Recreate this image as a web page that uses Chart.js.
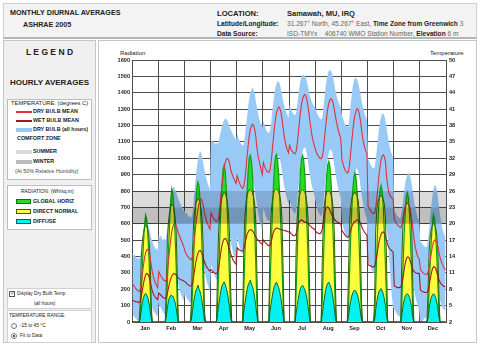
<!DOCTYPE html>
<html>
<head>
<meta charset="utf-8">
<script src="https://cdn.jsdelivr.net/npm/chart.js@4.4.0/dist/chart.umd.min.js"></script>
<style>
body{margin:0;width:480px;height:347px;background:#fff;font-family:"Liberation Sans",Arial,sans-serif;position:relative;overflow:hidden;color:#222}
.t{position:absolute;white-space:nowrap;line-height:1}
.b{font-weight:bold}
.box{position:absolute;box-sizing:border-box}
.g{color:#666}
.sw{position:absolute;box-sizing:border-box}
</style>
</head>
<body>
<!-- header -->
<div class="box" style="left:3px;top:3px;width:474px;height:36px;background:#f3f3f3;border:1px solid #cfcfcf;border-bottom:2px solid #b5b5b5"></div>
<div class="t b" style="left:10px;top:9px;font-size:7.2px">MONTHLY DIURNAL AVERAGES</div>
<div class="t b" style="left:23px;top:20.5px;font-size:7.2px">ASHRAE 2005</div>
<div class="t b" style="left:217px;top:10px;font-size:7.6px">LOCATION:</div>
<div class="t b" style="left:287px;top:10px;font-size:7.5px">Samawah, MU, IRQ</div>
<div class="t b" style="left:217px;top:21px;font-size:6.6px">Latitude/Longitude:</div>
<div class="t" style="left:287px;top:21px;font-size:6.6px"><span class="g">31.267° North, 45.267° East, </span><b>Time Zone from Greenwich</b><span class="g"> 3</span></div>
<div class="t b" style="left:217px;top:30.5px;font-size:6.6px">Data Source:</div>
<div class="t" style="left:287px;top:30.5px;font-size:6.6px"><span class="g">ISD-TMYx &nbsp;&nbsp; 406740 WMO Station Number, </span><b>Elevation</b><span class="g"> 6 m</span></div>

<!-- legend panel -->
<div class="box" style="left:3px;top:40px;width:93px;height:303px;background:#f0f0f0;border:1px solid #c6c6c6"></div>
<div class="t b" style="left:3px;width:93px;text-align:center;top:48px;font-size:8.5px">L E G E N D</div>
<div class="t b" style="left:3px;width:93px;text-align:center;top:79px;font-size:8px">HOURLY AVERAGES</div>

<div class="box" style="left:7px;top:99px;width:85px;height:81px;background:#fff;border:1px solid #bdbdbd"></div>
<div class="t" style="left:11px;top:100.5px;font-size:5.8px">TEMPERATURE: (degrees C)</div>
<div class="sw" style="left:16px;top:110.5px;width:16px;height:2px;background:#e0323c"></div>
<div class="t b" style="left:33px;top:109px;font-size:5.4px">DRY BULB MEAN</div>
<div class="sw" style="left:16px;top:120px;width:16px;height:2px;background:#9e1a22"></div>
<div class="t b" style="left:33px;top:118.3px;font-size:5.4px">WET BULB MEAN</div>
<div class="sw" style="left:16px;top:127.5px;width:16px;height:4px;background:#99c9f7"></div>
<div class="t b" style="left:33px;top:126.6px;font-size:5.4px">DRY BULB (all hours)</div>
<div class="t b" style="left:17px;top:136px;font-size:5.4px">COMFORT ZONE</div>
<div class="sw" style="left:16px;top:150px;width:16px;height:4px;background:#dadada"></div>
<div class="t b" style="left:33px;top:149.3px;font-size:5.4px">SUMMER</div>
<div class="sw" style="left:16px;top:159.7px;width:16px;height:4px;background:#bcbcbc"></div>
<div class="t b" style="left:33px;top:159px;font-size:5.4px">WINTER</div>
<div class="t" style="left:15px;top:168.5px;font-size:5.3px;color:#444">(At 50% Relative Humidity)</div>

<div class="box" style="left:7px;top:185px;width:85px;height:45px;background:#fff;border:1px solid #bdbdbd"></div>
<div class="t" style="left:21px;top:189.3px;font-size:5px">RADIATION: (Wh/sq.m)</div>
<div class="sw" style="left:16px;top:199.2px;width:15px;height:5px;background:#22dd22;border:1px solid #1a6a1a"></div>
<div class="t b" style="left:33px;top:199px;font-size:5.4px">GLOBAL HORIZ</div>
<div class="sw" style="left:16px;top:209.2px;width:15px;height:5px;background:#ffff40;border:1px solid #555500"></div>
<div class="t b" style="left:33px;top:209px;font-size:5.4px">DIRECT NORMAL</div>
<div class="sw" style="left:16px;top:219.2px;width:15px;height:5px;background:#00f2f2;border:1px solid #1a5a5a"></div>
<div class="t b" style="left:33px;top:219px;font-size:5.4px">DIFFUSE</div>

<div class="box" style="left:7px;top:288px;width:85px;height:21px;background:#fff;border:1px solid #d0d0d0"></div>
<div class="sw" style="left:9px;top:291px;width:6px;height:6px;border:1px solid #555;background:#fff"></div>
<div class="t" style="left:9.5px;top:290px;font-size:6px;color:#2a5a9a">✓</div>
<div class="t" style="left:17px;top:292px;font-size:4.8px">Display Dry Bulb Temp</div>
<div class="t" style="left:34px;top:302px;font-size:4.8px">(all hours)</div>

<div class="box" style="left:7px;top:310px;width:85px;height:33px;background:#fff;border:1px solid #d0d0d0"></div>
<div class="t" style="left:9px;top:313.5px;font-size:4.9px">TEMPERATURE RANGE:</div>
<div class="sw" style="left:11px;top:323px;width:6px;height:6px;border:1px solid #777;border-radius:50%;background:#fff"></div>
<div class="t" style="left:20px;top:324px;font-size:4.8px">-15 to 45 °C</div>
<div class="sw" style="left:11px;top:332.7px;width:6px;height:6px;border:1px solid #777;border-radius:50%;background:#fff"></div>
<div class="sw" style="left:12.8px;top:334.5px;width:2.4px;height:2.4px;border-radius:50%;background:#222"></div>
<div class="t" style="left:20px;top:333.7px;font-size:4.8px">Fit to Data</div>

<!-- chart panel -->
<div class="box" style="left:98px;top:40px;width:379px;height:303px;background:#fff;border:1px solid #c6c6c6"></div>
<div class="t" style="left:120px;top:50px;font-size:6px">Radiation</div>
<div class="t" style="left:430px;top:50px;font-size:6px">Temperature</div>
<div style="position:absolute;left:100px;top:40px;width:378px;height:302px"><canvas id="diurnal"></canvas></div>

<script>
// months and axis ranges
var months = ["Jan","Feb","Mar","Apr","May","Jun","Jul","Aug","Sep","Oct","Nov","Dec"];
var radRange = [0, 1600], radStep = 100;
var tempRange = [2, 50], tempStep = 3;
var summerZone = [23, 26];
var winterZone = [20, 23];

// hourly averages, one row of 24 hours per month (degrees C)
var dryBulbMean = [
 [9.0,8.7,8.4,8.1,7.9,7.7,7.6,7.9,9.0,10.7,12.4,13.8,14.7,15.2,15.3,14.9,14.0,12.6,11.3,10.4,9.7,9.1,8.7,8.3],
 [11.2,10.8,10.4,10.1,9.8,9.6,9.5,9.8,11.3,13.3,15.3,17.1,18.5,19.5,20.0,20.1,19.7,19.0,18.3,17.8,17.3,16.8,16.3,15.8],
 [15.0,14.6,14.2,13.9,13.7,13.5,13.4,14.0,15.6,17.6,19.6,21.3,22.7,23.7,24.3,24.5,24.1,23.2,22.0,21.1,20.4,19.9,19.4,19.0],
 [22.0,21.5,21.1,20.8,20.5,20.4,20.5,21.3,23.0,25.0,27.0,28.8,30.2,31.2,31.8,32.0,31.7,31.0,30.0,29.3,28.7,28.2,27.8,27.4],
 [28.8,28.1,27.5,27.0,26.7,26.5,26.8,28.0,30.0,32.2,34.3,36.0,37.2,37.9,38.2,38.0,37.3,36.1,34.0,32.6,31.6,30.7,29.8,29.0],
 [31.2,30.6,30.1,29.7,29.5,29.4,29.8,31.1,33.1,35.3,37.4,39.1,40.3,41.0,41.4,41.2,40.5,39.3,37.7,36.2,35.0,34.1,33.5,33.0],
 [34.4,33.8,33.4,33.1,32.9,32.8,33.2,34.5,36.5,38.6,40.4,41.9,42.9,43.5,43.7,43.4,42.6,41.4,39.9,38.3,36.9,35.7,34.8,34.1],
 [33.4,32.9,32.5,32.2,32.0,31.9,32.2,33.5,35.5,37.6,39.5,41.0,42.1,42.7,42.9,42.7,42.0,41.0,39.8,38.7,37.7,36.9,36.2,35.7],
 [31.8,31.0,30.3,29.8,29.5,29.3,29.5,30.8,32.8,35.0,37.0,38.7,39.9,40.7,41.1,40.9,40.1,38.9,37.3,35.8,34.7,33.9,33.3,32.8],
 [23.2,22.8,22.5,22.2,22.0,21.9,21.9,22.8,24.6,26.7,28.8,30.5,31.7,32.4,32.6,32.3,31.3,28.5,27.0,25.8,25.2,24.9,24.7,24.5],
 [20.8,20.4,20.1,19.8,19.6,19.4,19.3,19.8,20.8,22.0,23.0,23.6,23.8,23.7,23.2,22.2,20.8,19.2,17.6,16.2,15.1,14.3,13.8,13.5],
 [11.6,11.3,11.1,10.9,10.8,10.7,10.7,11.1,12.1,13.4,14.7,15.8,16.6,17.0,17.0,16.6,15.8,14.8,13.9,13.2,12.6,12.2,11.8,11.5]
];
var wetBulbMean = [
 [6.0,5.9,5.8,5.7,5.7,5.6,5.6,5.8,6.6,7.8,9.0,10.0,10.6,10.9,10.8,10.4,9.6,8.6,7.8,7.2,6.8,6.5,6.3,6.1],
 [7.3,7.1,6.9,6.7,6.5,6.4,6.3,6.5,7.3,8.3,9.2,9.9,10.4,10.7,10.9,10.8,10.6,10.3,10.1,9.9,9.8,9.7,9.6,9.5],
 [9.4,9.2,9.0,8.8,8.7,8.6,8.6,9.0,10.2,11.6,12.9,13.9,14.6,15.0,15.1,14.9,14.4,13.7,13.0,12.5,12.1,11.8,11.5,11.3],
 [11.6,11.4,11.2,11.0,10.9,10.9,11.1,12.0,13.4,14.9,16.0,16.8,17.2,17.3,17.1,16.6,15.9,15.1,14.5,14.0,13.4,13.1,12.8,12.6],
 [15.6,15.4,15.2,15.1,15.0,15.0,15.3,16.2,17.2,18.0,18.5,18.8,18.9,18.9,18.7,18.4,18.0,17.6,17.3,17.0,16.8,16.6,16.4,16.2],
 [17.0,16.7,16.5,16.3,16.1,16.0,16.0,16.6,17.5,18.3,18.8,19.1,19.2,19.2,19.1,19.0,18.9,18.9,18.8,18.8,18.7,18.7,18.6,18.5],
 [18.6,18.3,18.1,17.9,17.8,17.8,18.1,19.0,19.9,20.4,20.6,20.7,20.6,20.4,20.3,20.3,20.2,20.0,19.8,19.6,19.4,19.2,19.1,19.0],
 [18.6,18.4,18.3,18.2,18.2,18.4,19.0,20.3,21.7,22.6,23.0,23.1,22.9,22.5,22.0,21.6,21.2,20.9,20.6,20.4,20.3,20.2,20.1,20.0],
 [18.8,18.5,18.2,17.9,17.7,17.5,17.6,18.1,18.8,19.4,19.9,20.2,20.4,20.6,20.7,20.7,20.5,20.1,19.6,19.1,18.7,18.4,18.1,17.9],
 [12.5,12.4,12.3,12.2,12.1,12.1,12.2,12.9,14.1,15.4,16.6,17.5,18.1,18.4,18.5,18.3,17.7,16.9,16.2,15.7,15.4,15.2,15.0,14.8],
 [8.6,8.5,8.4,8.3,8.3,8.3,8.4,9.0,10.1,11.4,12.6,13.5,13.9,13.9,13.6,13.0,12.3,11.7,11.3,11.1,11.0,10.9,10.9,10.9],
 [7.9,7.7,7.6,7.5,7.4,7.4,7.4,7.7,8.6,9.8,10.9,11.7,12.1,12.1,11.8,11.2,10.5,9.8,9.3,9.0,8.8,8.6,8.5,8.4]
];
// spread of all hourly dry bulb values: highest and lowest for each hour
var dryBulbHigh = [
 [14.6,14.2,14.4,13.9,13.6,13.8,13.4,14.0,15.6,17.2,18.4,19.4,20.0,20.3,19.8,19.5,18.6,17.5,16.9,16.2,15.9,15.3,15.6,15.0],
 [17.8,17.5,17.9,17.2,17.0,17.4,16.9,17.6,19.4,21.3,23.2,24.8,25.9,26.6,26.8,26.2,25.9,25.1,24.6,24.0,23.6,23.1,22.8,22.4],
 [22.3,21.8,22.0,21.4,21.1,21.5,21.0,22.0,24.2,26.5,28.6,30.4,31.8,32.8,33.3,32.9,32.1,31.0,29.8,28.9,28.0,27.4,26.8,26.3],
 [35.3,35.0,35.2,34.8,34.6,34.9,34.5,35.1,36.0,37.0,37.8,38.5,39.0,39.3,39.2,38.9,38.4,37.8,37.2,36.8,36.4,36.0,35.7,35.4],
 [36.4,35.8,35.3,34.8,34.5,34.3,34.6,36.0,37.8,39.6,41.3,42.8,43.9,44.6,44.9,44.5,43.8,42.6,41.4,40.3,39.4,38.7,38.1,37.6],
 [38.8,38.1,37.5,37.0,36.8,36.6,37.0,38.4,40.2,42.0,43.6,44.9,45.7,46.1,46.0,45.6,44.8,43.7,42.6,41.7,41.0,40.4,39.9,39.4],
 [41.8,41.2,40.7,40.3,40.0,39.9,40.2,41.6,43.4,45.0,46.2,46.9,47.2,47.3,47.1,46.7,46.0,45.0,44.0,43.2,42.6,42.1,41.7,41.3],
 [41.0,40.4,39.9,39.5,39.2,39.1,39.5,41.0,43.0,44.9,46.4,47.4,48.0,48.2,48.0,47.5,46.7,45.6,44.5,43.6,42.8,42.2,41.7,41.3],
 [40.0,39.3,38.7,38.2,37.9,37.7,38.0,39.6,41.7,43.6,45.2,46.2,46.7,46.7,46.4,45.8,44.9,43.8,42.6,41.6,40.8,40.1,39.5,39.0],
 [32.0,31.5,31.0,30.6,30.3,30.1,30.3,31.6,33.5,35.5,37.3,38.7,39.6,40.1,40.2,39.8,38.9,37.6,36.2,35.0,34.0,33.2,32.6,32.1],
 [22.4,22.0,21.7,21.4,21.2,21.0,21.2,22.3,24.0,25.8,27.3,28.4,29.0,29.3,29.1,28.4,27.3,25.9,24.5,23.3,22.3,21.5,20.9,20.4],
 [16.8,16.5,16.2,16.0,15.8,15.7,15.9,17.0,19.0,21.3,23.4,25.1,26.3,27.0,27.0,26.4,25.0,23.3,21.6,20.3,19.3,18.6,18.0,17.5]
];
var dryBulbLow = [
 [3.6,3.1,2.9,2.6,2.4,2.3,2.2,2.6,3.8,5.4,6.8,8.0,8.8,9.2,9.0,8.3,7.0,5.6,4.7,4.1,3.8,3.5,3.2,3.0],
 [5.6,5.0,4.6,4.2,3.8,3.5,3.3,3.8,5.2,7.0,8.8,10.4,11.6,12.3,12.6,12.3,11.4,10.0,8.9,8.0,7.3,6.8,6.3,5.9],
 [7.2,6.7,6.3,6.0,5.7,5.5,5.3,5.8,7.4,9.4,11.4,13.0,14.2,15.0,15.3,15.0,14.0,12.6,11.3,10.3,9.5,8.8,8.2,7.7],
 [12.5,11.8,11.2,10.6,10.2,9.8,9.6,10.3,12.2,14.5,16.6,18.3,19.6,20.4,20.8,20.5,19.6,18.2,16.9,15.8,14.9,14.2,13.6,13.0],
 [17.5,16.6,15.9,15.3,14.8,14.5,14.8,16.2,18.6,21.2,23.6,25.5,26.8,27.5,27.8,27.4,26.4,25.0,23.6,22.3,21.2,20.3,19.5,18.8],
 [23.0,22.2,21.5,21.0,20.6,20.4,20.8,22.4,24.6,27.0,29.0,30.6,31.6,32.2,32.4,32.0,31.0,29.7,28.3,27.0,25.9,25.0,24.3,23.6],
 [24.5,23.6,22.9,22.4,22.0,21.9,22.3,23.9,26.2,28.6,30.7,32.3,33.3,33.9,34.0,33.6,32.6,31.2,29.8,28.5,27.4,26.5,25.8,25.1],
 [24.0,23.1,22.4,21.9,21.5,21.4,21.8,23.5,25.8,28.2,30.3,31.9,32.9,33.5,33.6,33.2,32.2,30.8,29.4,28.1,27.0,26.1,25.4,24.7],
 [20.5,19.6,18.8,18.2,17.7,17.5,17.8,19.4,21.8,24.3,26.6,28.3,29.4,30.0,30.1,29.6,28.5,27.0,25.5,24.2,23.1,22.2,21.4,20.8],
 [13.5,12.8,12.2,11.7,11.3,11.0,11.1,12.5,14.6,16.9,19.0,20.6,21.7,22.3,22.4,22.0,21.0,19.5,17.4,14.8,11.6,8.8,6.4,4.6],
 [4.5,4.0,3.6,3.3,3.1,3.0,3.2,4.4,6.3,8.5,10.4,11.8,12.7,13.1,13.0,12.3,11.0,9.5,8.1,7.0,6.1,5.3,4.6,4.0],
 [1.5,1.8,2.2,2.5,2.7,2.8,2.9,3.5,4.6,6.0,7.4,8.5,9.2,9.5,9.3,8.7,7.8,6.8,5.9,5.2,4.7,4.4,4.2,4.0]
];
// radiation (Wh/sq.m)
var globalHoriz = [
 [0,0,0,0,0,0,0,25,170,340,480,590,651,625,540,400,230,60,0,0,0,0,0,0],
 [0,0,0,0,0,0,0,70,250,440,610,740,814,785,690,530,340,120,0,0,0,0,0,0],
 [0,0,0,0,0,0,30,180,380,580,730,820,855,830,740,590,400,180,20,0,0,0,0,0],
 [0,0,0,0,0,0,110,300,510,700,840,930,957,920,820,660,460,250,60,0,0,0,0,0],
 [0,0,0,0,0,0,190,400,610,790,920,1000,1018,985,900,760,580,360,120,0,0,0,0,0],
 [0,0,0,0,0,0,200,410,620,800,930,1005,1022,990,905,765,590,380,140,0,0,0,0,0],
 [0,0,0,0,0,0,180,395,605,790,920,998,1018,988,900,760,585,375,130,0,0,0,0,0],
 [0,0,0,0,0,0,130,350,570,760,890,960,981,950,860,710,520,300,80,0,0,0,0,0],
 [0,0,0,0,0,0,70,280,500,680,810,885,912,880,790,640,440,220,30,0,0,0,0,0],
 [0,0,0,0,0,0,25,200,420,600,730,810,835,800,700,540,340,120,0,0,0,0,0,0],
 [0,0,0,0,0,0,0,110,320,510,660,760,790,760,660,500,300,70,0,0,0,0,0,0],
 [0,0,0,0,0,0,0,40,190,360,500,600,655,630,545,405,235,60,0,0,0,0,0,0]
];
var directNormal = [
 [0,0,0,0,0,0,0,110,390,490,545,575,590,585,560,515,410,140,0,0,0,0,0,0],
 [0,0,0,0,0,0,0,240,510,610,665,700,720,715,690,645,550,300,0,0,0,0,0,0],
 [0,0,0,0,0,0,120,430,600,680,720,740,750,745,725,685,610,420,60,0,0,0,0,0],
 [0,0,0,0,0,0,330,560,660,720,760,780,790,785,765,730,660,520,200,0,0,0,0,0],
 [0,0,0,0,0,0,450,640,725,770,795,805,806,800,790,765,720,620,330,0,0,0,0,0],
 [0,0,0,0,0,0,470,650,730,775,800,808,810,805,795,770,730,640,360,0,0,0,0,0],
 [0,0,0,0,0,0,440,640,725,770,795,805,808,802,792,768,725,630,340,0,0,0,0,0],
 [0,0,0,0,0,0,380,620,715,765,790,800,800,795,780,750,690,560,250,0,0,0,0,0],
 [0,0,0,0,0,0,280,600,700,750,775,785,790,785,770,740,670,500,120,0,0,0,0,0],
 [0,0,0,0,0,0,120,560,680,730,755,765,770,765,750,715,630,360,0,0,0,0,0,0],
 [0,0,0,0,0,0,0,380,600,670,705,720,725,720,705,670,580,250,0,0,0,0,0,0],
 [0,0,0,0,0,0,0,180,430,520,565,590,600,595,575,530,440,170,0,0,0,0,0,0]
];
var diffuse = [
 [0,0,0,0,0,0,0,20,75,120,150,168,175,165,148,120,80,28,0,0,0,0,0,0],
 [0,0,0,0,0,0,0,35,90,130,152,163,160,158,140,120,88,38,0,0,0,0,0,0],
 [0,0,0,0,0,0,15,70,120,160,190,205,225,200,185,155,115,65,12,0,0,0,0,0],
 [0,0,0,0,0,0,50,105,150,190,220,235,245,228,205,178,135,88,30,0,0,0,0,0],
 [0,0,0,0,0,0,60,110,155,195,225,240,255,232,218,190,150,100,45,0,0,0,0,0],
 [0,0,0,0,0,0,60,108,150,190,218,232,244,226,210,185,148,100,45,0,0,0,0,0],
 [0,0,0,0,0,0,55,100,140,178,205,218,224,212,198,175,140,95,40,0,0,0,0,0],
 [0,0,0,0,0,0,45,100,148,190,220,236,244,228,210,180,140,88,30,0,0,0,0,0],
 [0,0,0,0,0,0,30,85,125,158,178,190,195,185,170,148,112,65,15,0,0,0,0,0],
 [0,0,0,0,0,0,15,75,125,160,185,198,204,190,170,140,100,40,0,0,0,0,0,0],
 [0,0,0,0,0,0,0,40,95,130,155,168,173,165,150,125,85,30,0,0,0,0,0,0],
 [0,0,0,0,0,0,0,25,80,122,150,165,173,166,150,122,85,30,0,0,0,0,0,0]
];

// one point per hour, months side by side on the hour axis
function hourly(rows) {
  var pts = [];
  rows.forEach(function(day, m){
    day.forEach(function(v, h){ pts.push({x: m * 24 + h + 0.5, y: v}); });
  });
  return pts;
}
var monthTicks = [];
months.forEach(function(_, i){ monthTicks.push(i * 24, i * 24 + 12); });
monthTicks.push(months.length * 24);

var gridCol = '#4d4d4d';
var tickFont = {size: 5.6, weight: 'bold'};
Chart.defaults.font.family = '"Liberation Sans", Arial, sans-serif';

// comfort zone bands, laid over the data like the original
var comfortZone = {
  id: 'comfortZone',
  afterDatasetsDraw: function(chart){
    var ctx = chart.ctx, a = chart.chartArea, yT = chart.scales.yT;
    [[summerZone, 'rgba(0,0,0,0.14)'], [winterZone, 'rgba(0,0,0,0.25)']].forEach(function(z){
      var top = yT.getPixelForValue(z[0][1]), bot = yT.getPixelForValue(z[0][0]);
      ctx.save();
      ctx.fillStyle = z[1];
      ctx.fillRect(a.left, top, a.right - a.left, bot - top);
      ctx.restore();
    });
  }
};

var line = {pointRadius: 0, tension: 0};
new Chart(document.getElementById('diurnal').getContext('2d'), {
  type: 'line',
  data: {
    datasets: [
      Object.assign({label: 'DRY BULB MEAN', data: hourly(dryBulbMean), yAxisID: 'yT', borderColor: '#e0323c', borderWidth: 1.1, fill: false}, line),
      Object.assign({label: 'WET BULB MEAN', data: hourly(wetBulbMean), yAxisID: 'yT', borderColor: '#9e1a22', borderWidth: 1.1, fill: false}, line),
      Object.assign({label: 'DIFFUSE', data: hourly(diffuse), yAxisID: 'y', borderColor: '#1d5e2a', backgroundColor: '#00f2f2', borderWidth: 1, fill: 'origin'}, line),
      Object.assign({label: 'DIRECT NORMAL', data: hourly(directNormal), yAxisID: 'y', borderColor: '#2c6410', backgroundColor: '#ffff40', borderWidth: 1, fill: 'origin'}, line),
      Object.assign({label: 'GLOBAL HORIZ', data: hourly(globalHoriz), yAxisID: 'y', borderColor: '#12a012', backgroundColor: '#22dd22', borderWidth: 1.2, fill: 'origin'}, line),
      Object.assign({label: 'DRY BULB (all hours)', data: hourly(dryBulbHigh), yAxisID: 'yT', borderColor: 'rgba(0,0,0,0)', borderWidth: 0, backgroundColor: '#99c9f7', fill: '+1'}, line),
      Object.assign({label: 'dry bulb low', data: hourly(dryBulbLow), yAxisID: 'yT', borderColor: 'rgba(0,0,0,0)', borderWidth: 0, fill: false}, line)
    ]
  },
  options: {
    responsive: true,
    maintainAspectRatio: false,
    animation: false,
    layout: {padding: {top: 20, left: 0, right: 0, bottom: 0}},
    plugins: {legend: {display: false}, tooltip: {enabled: false}, filler: {drawTime: 'beforeDatasetsDraw'}},
    scales: {
      x: {
        type: 'linear', min: 0, max: months.length * 24, z: 1,
        afterBuildTicks: function(s){ s.ticks = monthTicks.map(function(v){ return {value: v}; }); },
        ticks: {autoSkip: false, maxRotation: 0, padding: 3, font: tickFont, color: '#222',
          callback: function(v){ return v % 24 === 12 ? months[(v - 12) / 24] : ''; }},
        grid: {color: function(c){ return c.tick && c.tick.value % 24 === 0 ? gridCol : 'rgba(0,0,0,0)'; }, drawTicks: false},
        border: {color: gridCol},
        afterFit: function(s){ s.height = 20; }
      },
      y: {
        position: 'left', min: radRange[0], max: radRange[1], z: 1,
        ticks: {stepSize: radStep, padding: 2, font: tickFont, color: '#222', callback: function(v){ return String(v); }},
        grid: {color: gridCol, drawTicks: false},
        border: {color: gridCol},
        afterFit: function(s){ s.width = 32; }
      },
      yT: {
        position: 'right', min: tempRange[0], max: tempRange[1], z: 1,
        ticks: {stepSize: tempStep, padding: 3, font: tickFont, color: '#222', callback: function(v){ return String(v); }},
        grid: {drawOnChartArea: false, drawTicks: false},
        border: {color: gridCol},
        afterFit: function(s){ s.width = 32; }
      }
    }
  },
  plugins: [comfortZone]
});
</script>
</body>
</html>
